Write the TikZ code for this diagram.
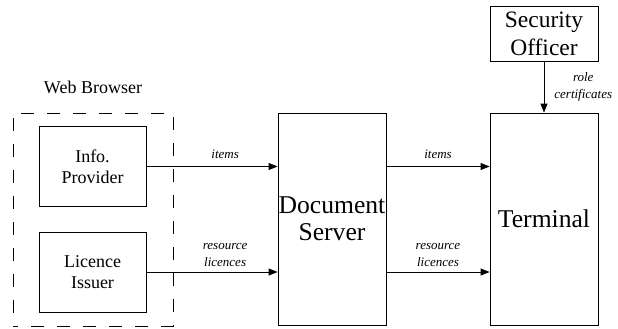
\documentclass[tikz,border=0pt]{standalone}
\usepackage{fontspec}
\setmainfont{Liberation Serif}
\usetikzlibrary{arrows.meta}

\begin{document}
\begin{tikzpicture}[x=1pt,y=-1pt,
		box/.style={draw, line width=0.8pt, align=center, inner sep=0pt},
		flow/.style={-{Triangle[length=9pt,width=7pt]}, line width=0.8pt},
		lbl/.style={font=\fontsize{13}{17}\selectfont\itshape, align=center, inner sep=2pt}]
			\useasboundingbox (0,0) rectangle (618,329);
				% the browser side
				\node[box, dash pattern=on 13pt off 13pt, dash phase=8pt, minimum width=160pt, minimum height=213pt] (web) at (93,219.5) {};
				\node[font=\fontsize{18}{21}\selectfont] (webname) at (93,87) {Web Browser};
				\node[box, font=\fontsize{18}{21.5}\selectfont, minimum width=107pt, minimum height=80pt] (info) at (92.5,166.5) {Info.\\Provider};
				\node[box, font=\fontsize{18}{21.5}\selectfont, minimum width=107pt, minimum height=80pt] (lic) at (92.5,272) {Licence\\Issuer};
				% server, terminal and officer
				\node[box, font=\fontsize{25.6}{27}\selectfont, minimum width=108pt, minimum height=212pt] (doc) at (332,219) {Document\\Server};
				\node[box, font=\fontsize{25.6}{27}\selectfont, minimum width=108pt, minimum height=212pt] (term) at (544,219) {Terminal};
				\node[box, font=\fontsize{23.5}{28}\selectfont, minimum width=108pt, minimum height=55pt] (sec) at (544,33.5) {Security\\Officer};
				% flows
				\draw[flow] (info.east) -- (info.east -| doc.west) node[lbl, pos=0.6, above=5pt]{items};
				\draw[flow] (lic.east) -- (lic.east -| doc.west) node[lbl, pos=0.6, above=3pt]{resource\\licences};
				\draw[flow] (doc.east |- info.east) -- (term.west |- info.east) node[lbl, midway, above=5pt]{items};
				\draw[flow] (doc.east |- lic.east) -- (term.west |- lic.east) node[lbl, midway, above=3pt]{resource\\licences};
				\draw[flow] (sec) -- (term) node[lbl, midway, right=8pt]{role\\certificates};
			\end{tikzpicture}
\end{document}
